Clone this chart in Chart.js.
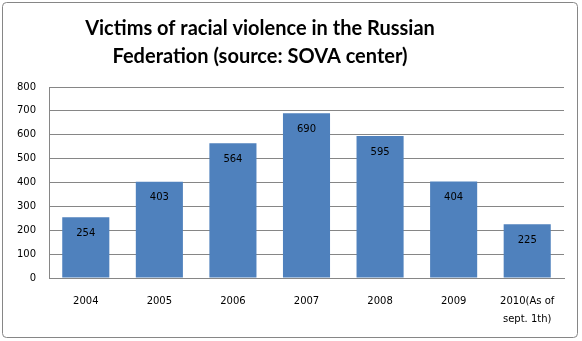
<!DOCTYPE html>
<html>
<head>
<meta charset="utf-8">
<script src="https://cdn.jsdelivr.net/npm/chart.js@4/dist/chart.umd.min.js"></script>
<style>
  html, body { margin: 0; padding: 0; background: #fff; }
  #wrap { width: 582px; height: 341px; }
</style>
</head>
<body>
<div id="wrap"><canvas id="vitimas" width="582" height="341"></canvas></div>
<script>
/* ============================================================
   DADOS
============================================================ */
const tituloLinhas = [
  "Victims of racial violence in the Russian",
  "Federation (source: SOVA center)",
];
const anos = ["2004", "2005", "2006", "2007", "2008", "2009", ["2010(As of", "sept. 1th)"]];
const vitimas = [254, 403, 564, 690, 595, 404, 225];
const ticksY = [0, 100, 200, 300, 400, 500, 600, 700, 800];

const AZUL = "#4F81BD";
const CINZA = "#868686";
const fonteTick = { family: "'DejaVu Sans', Verdana, sans-serif", size: 10 };

/* ============================================================
   PLUGINS
============================================================ */
// moldura arredondada em volta do gráfico
const moldura = {
  id: "moldura",
  afterDraw(chart) {
    const ctx = chart.ctx;
    ctx.save();
    ctx.strokeStyle = CINZA;
    ctx.lineWidth = 1;
    ctx.beginPath();
    ctx.roundRect(2.5, 2.5, 575, 335, 4);
    ctx.stroke();
    ctx.restore();
  },
};

// título em duas linhas (deslocado à esquerda como no original)
const titulo = {
  id: "titulo",
  afterDraw(chart) {
    const ctx = chart.ctx;
    ctx.save();
    ctx.fillStyle = "#000";
    ctx.font = "bold 20px Lato, 'Open Sans', sans-serif";
    ctx.textAlign = "center";
    ctx.textBaseline = "middle";
    tituloLinhas.forEach((linha, i) => ctx.fillText(linha, 260, 29 + i * 28));
    ctx.restore();
  },
};

// rótulos de valor dentro da barra, perto do topo
const rotulos = {
  id: "rotulos",
  afterDatasetsDraw(chart) {
    const ctx = chart.ctx;
    const meta = chart.getDatasetMeta(0);
    ctx.save();
    ctx.fillStyle = "#000";
    ctx.font = `${fonteTick.size}px ${fonteTick.family}`;
    ctx.textAlign = "center";
    ctx.textBaseline = "middle";
    meta.data.forEach((bar, i) => {
      ctx.fillText(String(vitimas[i]), bar.x, bar.y + 16);
    });
    ctx.restore();
  },
};

/* ============================================================
   GRÁFICO
============================================================ */
new Chart(document.getElementById("vitimas"), {
  type: "bar",
  data: {
    labels: anos,
    datasets: [
      {
        data: vitimas,
        backgroundColor: AZUL,
        borderWidth: 0,
        barPercentage: 0.64,
        categoryPercentage: 1,
      },
    ],
  },
  options: {
    responsive: false,
    animation: false,
    events: [],
    layout: { padding: { top: 87, right: 18, left: 0, bottom: 0 } },
    plugins: {
      legend: { display: false },
      tooltip: { enabled: false },
      title: { display: false },
    },
    scales: {
      x: {
        grid: { display: false, drawTicks: false },
        border: { color: CINZA, width: 1 },
        ticks: {
          color: "#000",
          font: { ...fonteTick, lineHeight: 1.75 },
          padding: 15,
          maxRotation: 0,
          autoSkip: false,
        },
        afterFit: (s) => { s.height = 63; },
      },
      y: {
        min: 0,
        max: 800,
        afterBuildTicks: (s) => { s.ticks = ticksY.map((v) => ({ value: v })); },
        grid: { color: CINZA, drawTicks: false },
        border: { color: CINZA, width: 1 },
        ticks: { color: "#000", font: fonteTick, padding: 13 },
        afterFit: (s) => { s.width = 49; },
      },
    },
  },
  plugins: [rotulos, titulo, moldura],
});
</script>
</body>
</html>
